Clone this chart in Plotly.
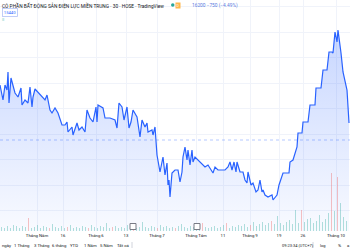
import plotly.graph_objects as go

# ---- price series (time index on the chart's bar timeline, price in VND) ----
t = [0, 3, 5, 7, 8, 9, 11, 13, 15, 18, 21, 22, 25, 28, 30, 32, 33, 35, 38, 42,
     45, 47, 50, 52, 55, 58, 62, 65, 67, 68, 72, 73, 77, 79, 82, 85, 87, 90, 93, 96,
     97, 98, 102, 103, 105, 110, 115, 117, 119, 122, 124, 127, 129, 131, 133, 137, 140, 142, 145, 147,
     148, 152, 153, 155, 157, 158, 160, 163, 165, 167, 168, 169, 170, 172, 175, 178, 180, 182, 183, 185,
     187, 188, 190, 192, 193, 195, 198, 202, 205, 208, 213, 215, 218, 225, 228, 230, 232, 234, 236, 237,
     240, 243, 245, 247, 248, 251, 253, 256, 258, 260, 262, 263, 265, 268, 272, 273, 277, 279, 283, 289,
     290, 293, 297, 298, 302, 303, 308, 310, 315, 316, 321, 323, 327, 329, 332, 333, 335, 337, 338, 341,
     343, 347, 349]
price = [17250, 16500, 17250, 17000, 17900, 16350, 17600, 17250, 16850, 16650, 17100, 16250, 16500, 16350, 17150, 16150, 16650, 17050, 16900, 16650,
         16500, 16750, 16000, 15850, 16100, 15850, 15250, 15250, 15400, 14900, 15150, 14750, 15350, 15000, 15150, 14900, 16000, 15600, 15400, 16150,
         15400, 16250, 16100, 16100, 15600, 15600, 15500, 15100, 16350, 16150, 15500, 16150, 15100, 15400, 16000, 15650, 14650, 15500, 15150, 15350,
         14900, 15000, 14750, 15150, 13750, 13500, 12900, 13650, 12750, 13350, 12250, 12500, 11650, 12850, 13000, 13000, 12400, 12900, 13650, 14150,
         13500, 14000, 13250, 14000, 13400, 13650, 13500, 13250, 13150, 13250, 12850, 13150, 13000, 13000, 13150, 13400, 13000, 13400, 12900, 13400,
         12900, 12900, 12500, 12350, 12900, 12250, 12350, 11900, 12000, 12500, 11900, 12000, 11750, 11650, 11750, 11500, 11750, 12250, 12850, 12850,
         13400, 13500, 14150, 14850, 14850, 15400, 15400, 16250, 16250, 17100, 17100, 18000, 18000, 18900, 18900, 18850, 19900, 19400, 20000, 18850,
         17900, 17000, 15350]
prev_close = 14500

# ---- volume (thousand shares) per bar, and bar direction (1 up, 0 down) ----
vol_t = [1.5 + 3 * i for i in range(116)]
volume = [40, 30, 50, 30, 60, 50, 30, 50, 40, 130, 30, 40, 60, 30, 50, 40, 30, 70, 40, 30,
          50, 30, 40, 60, 30, 40, 30, 50, 40, 30, 60, 40, 30, 50, 40, 80, 30, 40, 50, 30,
          40, 30, 60, 40, 50, 30, 40, 90, 40, 30, 50, 40, 30, 60, 40, 50, 30, 40, 30, 50,
          70, 40, 30, 50, 40, 60, 30, 80, 40, 30, 40, 50, 30, 40, 60, 80, 30, 50, 40, 60,
          50, 70, 40, 60, 90, 50, 70, 90, 60, 80, 100, 70, 150, 80, 60, 90, 110, 70, 210, 80,
          210, 90, 120, 130, 80, 100, 160, 90, 120, 180, 580, 200, 540, 280, 140, 100]
up = [1, 1, 1, 1, 1, 1, 1, 1, 1, 0, 1, 1, 1, 1, 1, 1, 0, 1, 1, 1,
      1, 1, 0, 1, 1, 1, 1, 1, 1, 0, 1, 1, 1, 1, 1, 1, 1, 0, 1, 1,
      1, 1, 1, 1, 0, 1, 1, 1, 1, 1, 1, 1, 0, 1, 1, 1, 1, 1, 0, 1,
      1, 1, 1, 1, 1, 1, 1, 0, 1, 1, 1, 1, 1, 1, 1, 0, 1, 1, 1, 1,
      1, 1, 1, 0, 1, 1, 1, 1, 1, 1, 0, 1, 1, 1, 1, 1, 1, 1, 1, 1,
      0, 1, 1, 1, 1, 1, 1, 1, 1, 1, 0, 1, 0, 1, 1, 1]
event_t = [133, 197]

# ---- axis labels ----
tick_t = [37, 63, 96, 126, 157, 196, 223, 250, 279, 303, 336]
tick_text = ["Tháng Năm", "16", "Tháng 6", "13", "Tháng 7", "Tháng Tám", "11", "Tháng 9", "19", "26", "Tháng 10"]
ranges = ["ngày", "1 Tháng", "3 Tháng", "6 tháng", "YTD", "1 Năm", "5 Năm", "Tất cả"]
range_x = [0, 12, 32, 50, 68, 82, 98, 115]

FONT = "Roboto"
BLUE = "#2962ff"

fig = go.Figure()

fig.add_trace(go.Bar(
    x=vol_t, y=volume, yaxis="y2", width=1.4,
    marker=dict(color=["rgba(38,166,154,0.35)" if u else "rgba(239,83,80,0.35)" for u in up],
                line=dict(width=0)),
    hoverinfo="skip", showlegend=False))

fig.add_trace(go.Scatter(
    x=t, y=price, mode="lines",
    line=dict(color=BLUE, width=1.2),
    fill="tozeroy",
    fillgradient=dict(type="vertical", start=9950, stop=20000,
                      colorscale=[[0, "rgba(41,98,255,0.03)"], [1, "rgba(41,98,255,0.26)"]]),
    hoverinfo="skip", showlegend=False))

fig.add_trace(go.Scatter(
    x=event_t, y=[45] * len(event_t), yaxis="y2", mode="markers",
    marker=dict(symbol="square", size=6, color="white", line=dict(color="#787b86", width=1)),
    hoverinfo="skip", showlegend=False))

fig.add_hline(y=prev_close, line=dict(color="rgba(41,98,255,0.35)", width=1, dash="dot"))

annotations = []
# header
annotations.append(dict(x=0, y=1 - 5 / 250, xref="paper", yref="paper", xanchor="left", yanchor="middle",
                        text="CÔ PHẦN BẤT ĐỘNG SẢN ĐIỆN LỰC MIỀN TRUNG · 30 · HOSE · TradingView",
                        showarrow=False, font=dict(family=FONT, size=4.8, color="#131722")))
annotations.append(dict(x=190 / 350, y=1 - 5 / 250, xref="paper", yref="paper", xanchor="left", yanchor="middle",
                        text="16200 −750 (−4.49%)", showarrow=False,
                        font=dict(family=FONT, size=4.8, color="#5b7be0")))
annotations.append(dict(x=178 / 350, y=1 - 5 / 250, xref="paper", yref="paper", xanchor="center", yanchor="middle",
                        text="D", showarrow=False, bgcolor="#ffb74d",
                        font=dict(family=FONT, size=3.5, color="white"), borderpad=0.5))
annotations.append(dict(x=10 / 350, y=1 - 12 / 250, xref="paper", yref="paper", xanchor="center", yanchor="middle",
                        text="15440", showarrow=False, bordercolor="#b2c1f5", borderwidth=0.8, borderpad=1,
                        font=dict(family=FONT, size=4.2, color="#2962ff")))
annotations.append(dict(x=0, y=1 - 20 / 250, xref="paper", yref="paper", xanchor="left", yanchor="middle",
                        text="≡", showarrow=False, font=dict(family=FONT, size=4.5, color="#26a69a")))
# bottom toolbar
for lx, lt in zip(range_x, ranges):
    annotations.append(dict(x=lx / 350, y=1 - 245 / 250, xref="paper", yref="paper", xanchor="left", yanchor="middle",
                            text=lt, showarrow=False, font=dict(family=FONT, size=4.3, color="#131722")))
annotations.append(dict(x=280 / 350, y=1 - 245 / 250, xref="paper", yref="paper", xanchor="left", yanchor="middle",
                        text="09:23:34 (UTC+7)", showarrow=False, font=dict(family=FONT, size=4.0, color="#131722")))
annotations.append(dict(x=318 / 350, y=1 - 245 / 250, xref="paper", yref="paper", xanchor="left", yanchor="middle",
                        text="log", showarrow=False, font=dict(family=FONT, size=4.0, color="#131722")))
annotations.append(dict(x=336 / 350, y=1 - 245 / 250, xref="paper", yref="paper", xanchor="left", yanchor="middle",
                        text="%", showarrow=False, font=dict(family=FONT, size=4.3, color="#131722")))
annotations.append(dict(x=345 / 350, y=1 - 245 / 250, xref="paper", yref="paper", xanchor="left", yanchor="middle",
                        text="a", showarrow=False, font=dict(family=FONT, size=4.3, color="#131722")))

shapes = [
    dict(type="line", xref="paper", yref="paper", x0=0, x1=1, y0=1 - 239.5 / 250, y1=1 - 239.5 / 250,
         line=dict(color="#e0e3eb", width=1)),
    dict(type="line", xref="paper", yref="paper", x0=132 / 350, x1=132 / 350, y0=1 - 242 / 250, y1=1 - 248 / 250,
         line=dict(color="#d1d4dc", width=1)),
    dict(type="line", xref="paper", yref="paper", x0=313 / 350, x1=313 / 350, y0=1 - 242 / 250, y1=1 - 248 / 250,
         line=dict(color="#d1d4dc", width=1)),
    dict(type="circle", xref="paper", yref="paper", x0=171 / 350, x1=174.5 / 350, y0=1 - 6.8 / 250, y1=1 - 3.3 / 250,
         fillcolor="#26a69a", line=dict(width=0)),
]

fig.update_layout(
    width=350, height=250, margin=dict(l=0, r=0, t=0, b=0),
    paper_bgcolor="white", plot_bgcolor="white",
    bargap=0, showlegend=False,
    font=dict(family=FONT, size=5, color="#131722"),
    xaxis=dict(range=[0, 350], tickmode="array", tickvals=tick_t, ticktext=tick_text,
               showgrid=True, gridcolor="#f0f3fa", gridwidth=1, zeroline=False, showline=False,
               ticks="", ticklabelstandoff=1, tickfont=dict(family=FONT, size=4.3, color="#131722"),
               fixedrange=True),
    yaxis=dict(domain=[19 / 250, 1], range=[9950, 21500], showticklabels=False,
               tick0=12250, dtick=1275, showgrid=True, gridcolor="#f0f3fa", gridwidth=1,
               zeroline=False, showline=False, fixedrange=True),
    yaxis2=dict(domain=[19 / 250, 1], range=[0, 2310], overlaying="y", showticklabels=False,
                showgrid=False, zeroline=False, fixedrange=True),
    annotations=annotations, shapes=shapes,
)

fig.write_html("out.html")
